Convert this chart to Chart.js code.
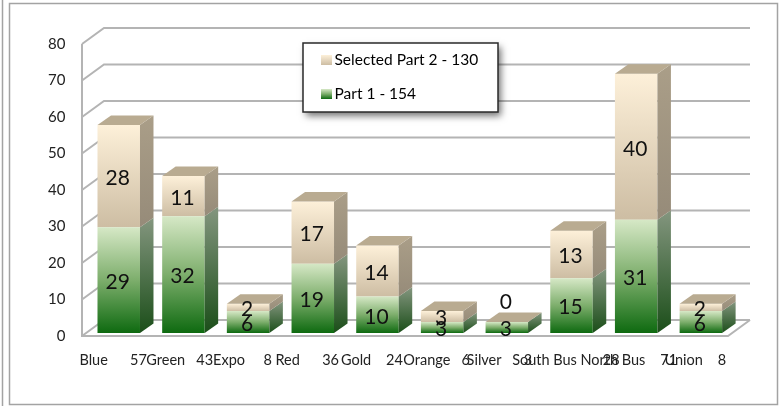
<!DOCTYPE html>
<html>
<head>
<meta charset="utf-8">
<title>Parts by line</title>
<script src="https://cdn.jsdelivr.net/npm/chart.js@4/dist/chart.umd.min.js"></script>
<style>
	html, body { margin: 0; padding: 0; background: #fff; }
	canvas { display: block; filter: blur(0.4px); }
</style>
</head>
<body>
<canvas id="chart" width="782" height="406"></canvas>
<script>
// labels are name + gap + line total + trailing spaces, centred on each bar
const xLabels = [
	'Blue      57   ',
	'Green   43  ',
	'Expo     8   ',
	'Red      36   ',
	'Gold    24   ',
	'Orange   6   ',
	'Silver      3    ',
	'South Bus       28   ',
	'North Bus    71    ',
	'Union    8   '
]
const part1 = [29, 32, 6, 19, 10, 3, 3, 15, 31, 6]
const part2 = [28, 11, 2, 17, 14, 3, 0, 13, 40, 2]
const legendPart1 = 'Part 1 - 154'
const legendPart2 = 'Selected Part 2 - 130'

const FONT = 'Lato, sans-serif'
const DEPTH_X = 13.5
const DEPTH_Y = -9.5
const WALL_X = 22
const WALL_Y = -16
const BAR_LIFT = -3
const GRID = '#b4b4b4'

function vGradient(ctx, y0, y1, stops) {
	const g = ctx.createLinearGradient(0, y0, 0, y1)
	stops.forEach(([at, color]) => g.addColorStop(at, color))
	return g
}

const frontP1 = [[0, '#d6e8c6'], [0.5, '#7dae6c'], [1, '#0e6a10']]
const frontP2 = [[0, '#fdf0d9'], [1, '#cdbda3']]
const sideP1 = [[0, '#84967f'], [1, '#1b4e19']]
const sideP2 = [[0, '#aa9e88'], [1, '#968b79']]

function barFill(stops) {
	return (c) => {
		const { chart, dataIndex, datasetIndex } = c
		const y = chart.scales.y
		if (!y) return stops[0][1]
		const base = datasetIndex === 0 ? 0 : part1[dataIndex]
		const top = base + chart.data.datasets[datasetIndex].data[dataIndex]
		return vGradient(chart.ctx, y.getPixelForValue(top), y.getPixelForValue(base), stops)
	}
}

// frame, walls and legend box go under everything
const backdrop = {
	id: 'backdrop',
	beforeDraw(chart) {
		const { ctx, scales } = chart
		const y = scales.y
		ctx.save()
		ctx.fillStyle = '#fff'
		ctx.fillRect(0, 0, 782, 406)
		ctx.strokeStyle = '#a3a3a3'
		ctx.lineWidth = 1.5
		ctx.strokeRect(9.5, 3.5, 768, 401)
		ctx.beginPath()
		ctx.moveTo(2.5, 0)
		ctx.lineTo(2.5, 406)
		ctx.stroke()

		const left = 82
		const right = 728
		ctx.strokeStyle = GRID
		ctx.lineWidth = 2
		y.ticks.forEach((t) => {
			const py = y.getPixelForValue(t.value)
			ctx.beginPath()
			ctx.moveTo(left, py)
			ctx.lineTo(left + WALL_X, py + WALL_Y)
			ctx.lineTo(right + WALL_X, py + WALL_Y)
			ctx.stroke()
		})
		ctx.beginPath()
		ctx.moveTo(left, y.getPixelForValue(80))
		ctx.lineTo(left, y.getPixelForValue(0))
		ctx.lineTo(right, y.getPixelForValue(0))
		ctx.lineTo(right + WALL_X, y.getPixelForValue(0) + WALL_Y)
		ctx.stroke()

		ctx.shadowColor = 'rgba(0,0,0,.55)'
		ctx.shadowBlur = 7
		ctx.shadowOffsetX = 3
		ctx.shadowOffsetY = 4
		ctx.fillStyle = '#fff'
		ctx.fillRect(303, 43, 195, 69)
		ctx.shadowColor = 'transparent'
		ctx.strokeStyle = '#2a2a2a'
		ctx.lineWidth = 1.5
		ctx.strokeRect(303, 43, 195, 69)
		ctx.restore()
	},
	afterLayout(chart) {
		const l = chart.legend
		l.left = 301.25
		l.right = 498
		l.top = 33.75
		l.bottom = 140
	},
	beforeDatasetsDraw(chart) {
		chart.ctx.save()
		chart.ctx.translate(0, BAR_LIFT)
	},
	afterDatasetsDraw(chart) {
		const ctx = chart.ctx
		const m1 = chart.getDatasetMeta(0).data
		const m2 = chart.getDatasetMeta(1).data

		const side = (bar, stops) => {
			if (bar.base - bar.y < 0.5) return
			const x = bar.x + bar.width / 2
			ctx.fillStyle = vGradient(ctx, bar.y + DEPTH_Y, bar.base, stops)
			ctx.beginPath()
			ctx.moveTo(x, bar.y)
			ctx.lineTo(x + DEPTH_X, bar.y + DEPTH_Y)
			ctx.lineTo(x + DEPTH_X, bar.base + DEPTH_Y)
			ctx.lineTo(x, bar.base)
			ctx.closePath()
			ctx.fill()
		}

		m1.forEach((bar, i) => {
			side(bar, sideP1)
			side(m2[i], sideP2)
			const t = m2[i]
			const x0 = t.x - t.width / 2
			const x1 = t.x + t.width / 2
			ctx.fillStyle = '#b9ab91'
			ctx.beginPath()
			ctx.moveTo(x0, t.y)
			ctx.lineTo(x0 + DEPTH_X, t.y + DEPTH_Y)
			ctx.lineTo(x1 + DEPTH_X, t.y + DEPTH_Y)
			ctx.lineTo(x1, t.y)
			ctx.closePath()
			ctx.fill()
		})
		ctx.restore()

		ctx.save()
		ctx.font = '21px ' + FONT
		ctx.fillStyle = '#111'
		ctx.textAlign = 'center'
		ctx.textBaseline = 'middle'
		;[m1, m2].forEach((meta, d) => {
			const values = d === 0 ? part1 : part2
			meta.forEach((bar, i) => {
				// the empty silver segment has its 0 floating over the bar
				const mid = (bar.y + bar.base) / 2 + BAR_LIFT + (values[i] === 0 ? -20 : 2)
				ctx.fillText(values[i], bar.x - 1, mid)
			})
		})
		ctx.restore()
	},
	afterDraw(chart) {
		const ctx = chart.ctx
		ctx.fillStyle = vGradient(ctx, 55, 65, frontP2)
		ctx.fillRect(321, 55, 11, 10)
		ctx.fillStyle = vGradient(ctx, 89, 99, frontP1)
		ctx.fillRect(321, 89, 11, 10)
	}
}

new Chart(document.getElementById('chart').getContext('2d'), {
	type: 'bar',
	data: {
		labels: xLabels,
		datasets: [
			{ label: legendPart1, data: part1, backgroundColor: barFill(frontP1), borderWidth: 0 },
			{ label: legendPart2, data: part2, backgroundColor: barFill(frontP2), borderWidth: 0 }
		]
	},
	options: {
		responsive: false,
		animation: false,
		layout: { padding: { top: 44, right: 48.8, left: 0, bottom: 0 } },
		datasets: { bar: { categoryPercentage: 1, barPercentage: 0.657 } },
		plugins: {
			tooltip: { enabled: false },
			legend: {
				position: 'chartArea',
				align: 'start',
				reverse: true,
				labels: {
					boxWidth: 7,
					boxHeight: 10,
					padding: 18.5,
					color: '#111',
					font: { family: FONT, size: 15.5 },
					generateLabels: () => [
						{ text: legendPart1, fillStyle: 'transparent', strokeStyle: 'transparent', lineWidth: 0, datasetIndex: 0 },
						{ text: legendPart2, fillStyle: 'transparent', strokeStyle: 'transparent', lineWidth: 0, datasetIndex: 1 }
					]
				}
			}
		},
		scales: {
			x: {
				stacked: true,
				afterFit: (s) => { s.height = 70 },
				grid: { display: false },
				border: { display: false },
				ticks: {
					autoSkip: false,
					maxRotation: 0,
					padding: 8,
					color: '#222',
					font: { family: FONT, size: 14.5 }
				}
			},
			y: {
				stacked: true,
				min: 0,
				max: 80,
				afterFit: (s) => { s.width = 86.4 },
				grid: { display: false, drawTicks: false },
				border: { display: false },
				ticks: {
					stepSize: 10,
					padding: 21,
					color: '#222',
					font: { family: FONT, size: 15 }
				}
			}
		}
	},
	plugins: [backdrop]
})
</script>
</body>
</html>
